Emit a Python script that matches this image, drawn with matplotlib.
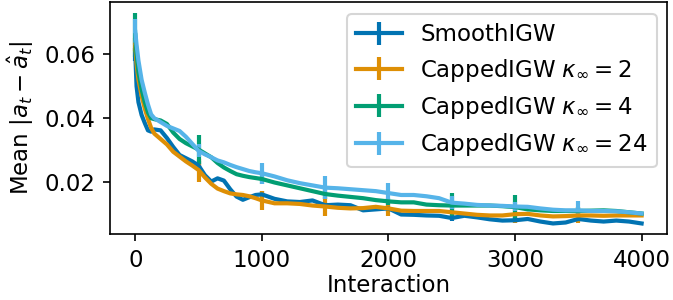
import numpy as np
import matplotlib
matplotlib.use("Agg")
import matplotlib.pyplot as plt

interaction = np.array([0, 10, 25, 50, 75, 100, 125, 150, 200, 250, 300, 350, 400, 450,
                        500, 550, 600, 650, 700, 750, 800, 850, 900, 950, 1000,
                        1100, 1200, 1300, 1400, 1500, 1600, 1700, 1800, 1900, 2000,
                        2100, 2200, 2300, 2400, 2500, 2600, 2700, 2800, 2900, 3000,
                        3100, 3200, 3300, 3400, 3500, 3600, 3700, 3800, 3900, 4000])

smooth_igw = [0.060, 0.050, 0.045, 0.041, 0.0385, 0.0362, 0.0358, 0.0365, 0.0362, 0.0338,
              0.031, 0.0285, 0.0275, 0.0265, 0.0252, 0.0222, 0.0202, 0.0212, 0.0205, 0.0178,
              0.0155, 0.0145, 0.0153, 0.016, 0.0162, 0.0148, 0.014, 0.0138, 0.0143, 0.0128,
              0.013, 0.0128, 0.0112, 0.0115, 0.0118, 0.0099, 0.0098, 0.0096, 0.0095, 0.0088,
              0.0095, 0.009, 0.0084, 0.008, 0.0081, 0.0085, 0.0077, 0.0071, 0.0074, 0.0085,
              0.008, 0.0077, 0.008, 0.0077, 0.0071]

capped_2 = [0.063, 0.057, 0.052, 0.047, 0.043, 0.0398, 0.037, 0.0352, 0.0335, 0.0318,
            0.0295, 0.028, 0.0265, 0.0252, 0.0238, 0.0215, 0.0195, 0.018, 0.0172, 0.0165,
            0.0162, 0.016, 0.0156, 0.015, 0.0143, 0.0134, 0.0134, 0.0132, 0.0127, 0.0124,
            0.012, 0.0118, 0.0119, 0.0123, 0.0118, 0.0111, 0.011, 0.011, 0.011, 0.0106,
            0.0102, 0.0098, 0.0096, 0.0096, 0.010, 0.0101, 0.0096, 0.0093, 0.0094, 0.0096,
            0.0096, 0.0095, 0.0096, 0.0096, 0.0096]

capped_4 = [0.066, 0.060, 0.0544, 0.049, 0.045, 0.0418, 0.040, 0.0397, 0.0393, 0.0382,
            0.0355, 0.0335, 0.0322, 0.0312, 0.0302, 0.029, 0.0278, 0.026, 0.0246, 0.0235,
            0.0225, 0.022, 0.0216, 0.0213, 0.021, 0.0199, 0.019, 0.0181, 0.0172, 0.0163,
            0.0158, 0.0154, 0.015, 0.0144, 0.014, 0.0137, 0.0137, 0.013, 0.0128, 0.0127,
            0.0127, 0.0127, 0.0127, 0.0125, 0.0122, 0.0115, 0.0112, 0.011, 0.011, 0.011,
            0.0111, 0.0112, 0.011, 0.0106, 0.0102]

capped_24 = [0.067, 0.063, 0.058, 0.052, 0.048, 0.0443, 0.0412, 0.040, 0.0388, 0.0376,
             0.0368, 0.036, 0.0342, 0.032, 0.0298, 0.0287, 0.0278, 0.0268, 0.0262, 0.0254,
             0.0247, 0.0241, 0.0235, 0.0231, 0.0228, 0.0218, 0.0206, 0.0197, 0.019, 0.0183,
             0.0181, 0.0178, 0.0175, 0.0172, 0.0166, 0.016, 0.016, 0.0156, 0.015, 0.0136,
             0.0133, 0.0129, 0.0127, 0.0126, 0.0124, 0.0123, 0.0118, 0.0114, 0.0112, 0.0112,
             0.011, 0.011, 0.0109, 0.0106, 0.0102]

# error bars shown every 500 interactions
err_steps = [0, 500, 1000, 1500, 2000, 2500, 3000, 3500]
err_smooth = [0.002, 0.0015, 0.001, 0.001, 0.001, 0.001, 0.001, 0.001]
err_c2 = [0.002, 0.0036, 0.003, 0.003, 0.0025, 0.0025, 0.0028, 0.0025]
err_c4 = [0.007, 0.0045, 0.0015, 0.0015, 0.0012, 0.0038, 0.0037, 0.0012]
err_c24 = [0.004, 0.002, 0.0033, 0.0035, 0.003, 0.002, 0.0015, 0.003]

labels = ["SmoothIGW",
          r"CappedIGW $\kappa_\infty = 2$",
          r"CappedIGW $\kappa_\infty = 4$",
          r"CappedIGW $\kappa_\infty = 24$"]
colors = ["#0173B2", "#DE8F05", "#029E73", "#56B4E9"]

plt.rcParams['font.size'] = 11

fig, ax = plt.subplots(figsize=(673 / 150, 2.0), dpi=150)
fig.subplots_adjust(left=0.1634, right=0.991, top=0.993, bottom=0.22)

mask = np.isin(interaction, err_steps)
for y, e, lab, c in zip([smooth_igw, capped_2, capped_4, capped_24],
                        [err_smooth, err_c2, err_c4, err_c24], labels, colors):
    yerr = np.zeros(len(interaction))
    yerr[mask] = e
    ax.errorbar(interaction, y, yerr=yerr, errorevery=mask, color=c, label=lab, lw=2)

ax.set_xticks([0, 1000, 2000, 3000, 4000])
ax.set_yticks([0.02, 0.04, 0.06])
ax.set_xlabel("Interaction", labelpad=1)
ax.set_ylabel(r"Mean $|a_t - \hat{a}_t|$")
ax.legend(loc="upper right", bbox_to_anchor=(0.982, 0.948), borderaxespad=0,
          labelspacing=0.45)

fig.savefig("out.png", dpi=150)
